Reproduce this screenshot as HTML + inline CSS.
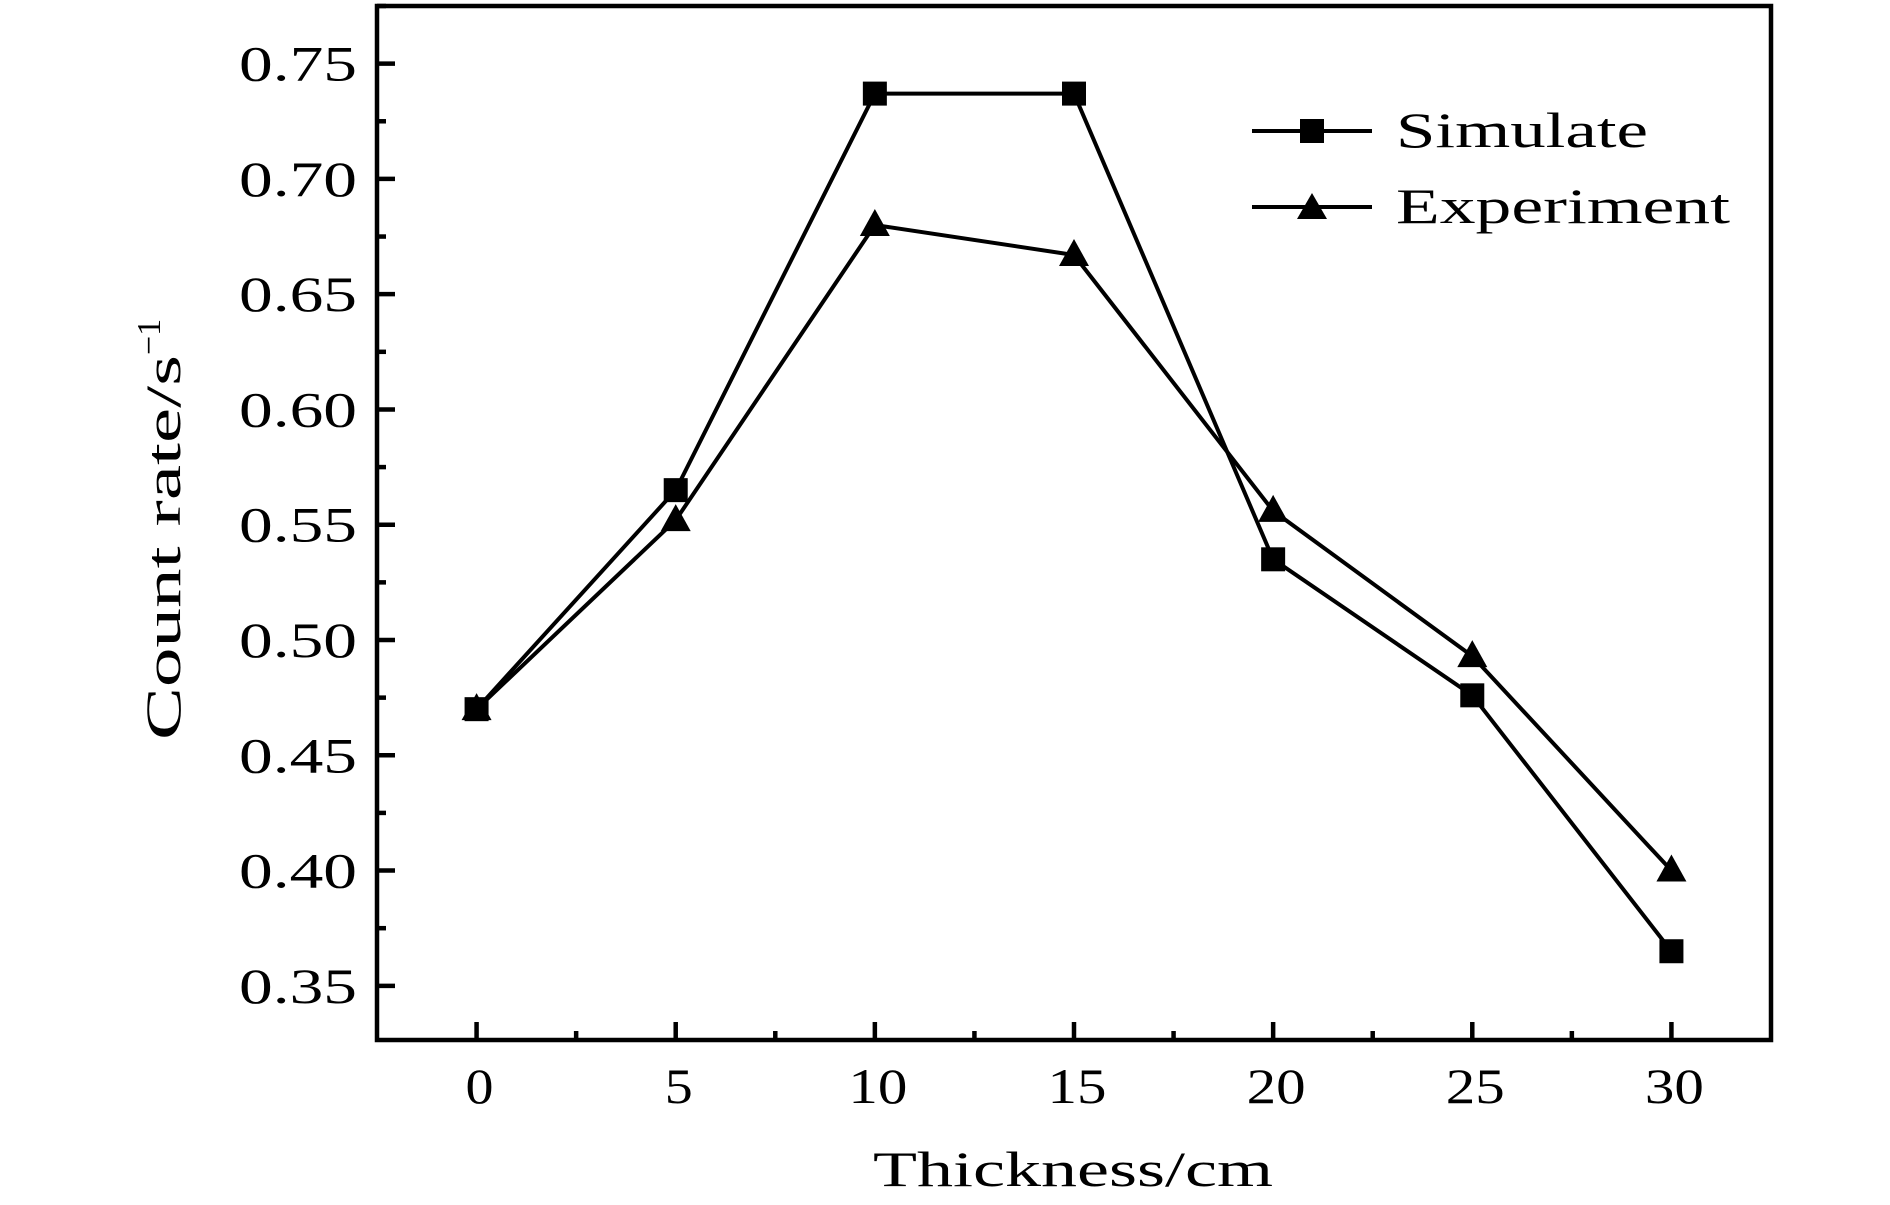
<!DOCTYPE html>
<html><head><meta charset="utf-8"><style>
html,body{margin:0;padding:0;background:#fff;}
svg{display:block;font-family:"Liberation Serif",serif;}
</style></head><body>
<svg id="chart" width="1890" height="1205" viewBox="0 0 1890 1205" xmlns="http://www.w3.org/2000/svg">
<g id="axes"></g>
<g id="series"></g>
<g id="legend">
  <line x1="1252" y1="131" x2="1372" y2="131" stroke="#000" stroke-width="4"/>
  <rect x="1300" y="119" width="24" height="24" fill="#000"/>
  <text x="1396" y="147" font-size="50" textLength="252" lengthAdjust="spacingAndGlyphs">Simulate</text>
  <line x1="1252" y1="207" x2="1372" y2="207" stroke="#000" stroke-width="4"/>
  <polygon points="1312,193 1297,219 1327,219" fill="#000"/>
  <text x="1396" y="223" font-size="50" textLength="334" lengthAdjust="spacingAndGlyphs">Experiment</text>
</g>
<text x="873" y="1186" font-size="50" textLength="400" lengthAdjust="spacingAndGlyphs">Thickness/cm</text>
<text transform="translate(180,740) rotate(-90)" font-size="50"><tspan textLength="385" lengthAdjust="spacingAndGlyphs">Count rate/s</tspan><tspan font-size="34" dy="-20">−1</tspan></text>
</svg>
<script>
const categories = [0, 5, 10, 15, 20, 25, 30];
const simulateValues = [0.47, 0.565, 0.737, 0.737, 0.535, 0.476, 0.365];
const experimentValues = [0.47, 0.552, 0.680, 0.667, 0.556, 0.493, 0.400];
const yTickLabels = ["0.35","0.40","0.45","0.50","0.55","0.60","0.65","0.70","0.75"];
const xTickLabels = ["0","5","10","15","20","25","30"];

const L=377,R=1771,T=6,B=1040;
const xMin=-2.5,xMax=32.5,yMin=0.3265,yMax=0.775;
const sx=v=>L+(v-xMin)/(xMax-xMin)*(R-L);
const sy=v=>B-(v-yMin)/(yMax-yMin)*(B-T);
const NS="http://www.w3.org/2000/svg";
function mk(tag,attrs,parent){const e=document.createElementNS(NS,tag);for(const k in attrs)e.setAttribute(k,attrs[k]);parent.appendChild(e);return e;}
const axes=document.getElementById('axes');
const frame=mk('rect',{x:L,y:T,width:R-L,height:B-T,fill:'none',stroke:'#000','stroke-width':4.5},axes);


yTickLabels.forEach(s=>{
  const v=parseFloat(s),y=sy(v);
  const t=mk('line',{x1:L,y1:y,x2:L+18,y2:y,stroke:'#000','stroke-width':4.5},axes);
  
  
  const m=mk('line',{x1:L,y1:sy(v+0.025),x2:L+9,y2:sy(v+0.025),stroke:'#000','stroke-width':4.5},axes);
  
  
  const tx=mk('text',{x:239,y:y+17,'font-size':50,textLength:118,lengthAdjust:'spacingAndGlyphs'},axes);
  tx.textContent=s;
  
  
});
xTickLabels.forEach(s=>{
  const v=parseFloat(s),x=sx(v);
  const t=mk('line',{x1:x,y1:B,x2:x,y2:B-18,stroke:'#000','stroke-width':4.5},axes);
  
  
  if(v<30){const m=mk('line',{x1:sx(v+2.5),y1:B,x2:sx(v+2.5),y2:B-9,stroke:'#000','stroke-width':4.5},axes);
  
  }
  const w=s.length>1?59:28;
  const tx=mk('text',{x:x+3-w/2,y:1103,'font-size':50,textLength:w,lengthAdjust:'spacingAndGlyphs'},axes);
  tx.textContent=s;
  
  
});
const series=document.getElementById('series');
function drawSeries(vals,name,marker){
  const pts=categories.map((c,i)=>sx(c)+','+sy(vals[i])).join(' ');
  const pl=mk('polyline',{points:pts,fill:'none',stroke:'#000','stroke-width':4},series);
  
  
  categories.forEach((c,i)=>{
    const x=sx(c),y=sy(vals[i]);let e;
    if(marker==='square')e=mk('rect',{x:x-12,y:y-12,width:24,height:24,fill:'#000'},series);
    else e=mk('polygon',{points:`${x},${y-16} ${x-15},${y+11} ${x+15},${y+11}`,fill:'#000'},series);
    
    
  });
}
drawSeries(simulateValues,'simulate','square');
drawSeries(experimentValues,'experiment','triangle');
</script>
</body></html>
